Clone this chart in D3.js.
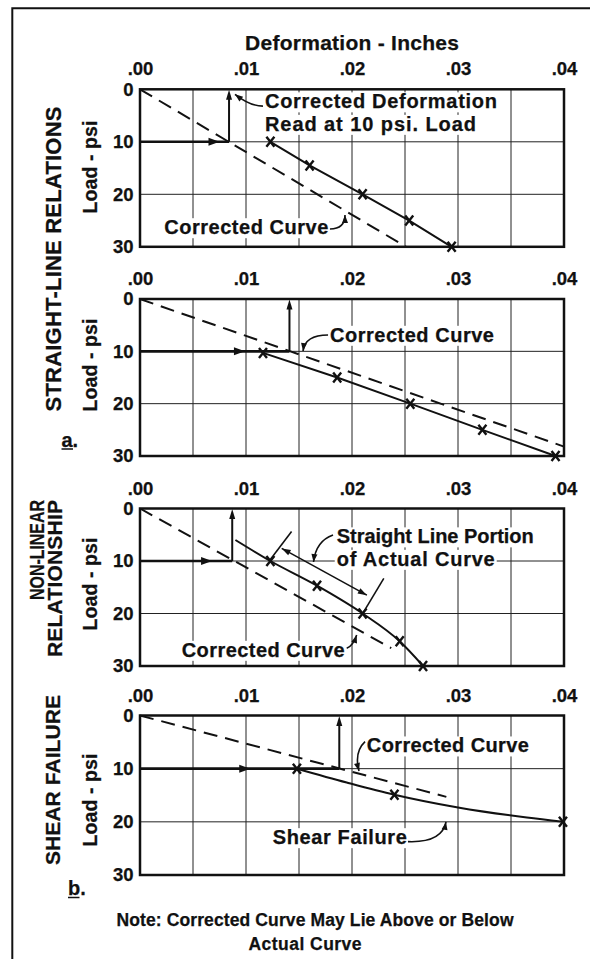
<!DOCTYPE html>
<html><head><meta charset="utf-8">
<script src="https://cdn.jsdelivr.net/npm/d3@7"></script>
<style>
html,body{margin:0;padding:0;background:#fff;}
svg{display:block;}
text{font-family:"Liberation Sans",Arial,Helvetica,sans-serif;font-weight:bold;fill:#111;stroke:#111;stroke-width:0.25px;}
</style></head><body>
<svg id="chart" width="590" height="959"></svg>
<script>
// ---------------- DATA ----------------
const xTickValues = [0, 0.01, 0.02, 0.03, 0.04];
const xTickLabels = [".00", ".01", ".02", ".03", ".04"];
const yTickValues = [0, 10, 20, 30];
const yTickLabels = ["0", "10", "20", "30"];
const xGridValues = [0.005, 0.01, 0.015, 0.02, 0.025, 0.03, 0.035];
const yGridValues = [10, 20];
const xAxisTitle = "Deformation - Inches";
const yAxisTitle = "Load - psi";

// Panel 1 (straight-line, a / upper)
const p1Actual = [[0.0123,10],[0.0160,14.5],[0.0210,20],[0.0254,25],[0.0294,30]];
const p1Marks = [[0.0123,10],[0.0160,14.5],[0.0210,20],[0.0254,25],[0.0294,30]];
const p1Corrected = [[0,0],[0.0251,30]];
const p1Read = [0.0084,10];
const p1ArrowTip = 0.0075;

// Panel 2 (straight-line, a / lower)
const p2Actual = [[0.0116,10.3],[0.0186,15],[0.0255,20],[0.0323,25],[0.0392,30]];
const p2Marks = [[0.0116,10.3],[0.0186,15],[0.0255,20],[0.0323,25],[0.0392,30]];
const p2Corrected = [[0,0],[0.04,28.2]];
const p2Read = [0.0141,10];
const p2ArrowTip = 0.0099;

// Panel 3 (non-linear)
const p3Actual = [[0.0090,6.0],[0.0123,10],[0.0167,14.7],[0.0210,20],[0.0245,25.3],[0.0267,30]];
const p3Marks = [[0.0123,10],[0.0167,14.7],[0.0210,20],[0.0245,25.3],[0.0267,30]];
const p3Corrected = [[0,0],[0.0237,26.6]];
const p3Read = [0.0087,10];
const p3ArrowTip = 0.0068;
const p3StraightPortion = [[0.01337,7.6],[0.0214,16.5]];
const p3ExtensionA = [[0.0143,4.4],[0.01226,9.8]];
const p3ExtensionB = [[0.0230,13.3],[0.0211,19.7]];

// Panel 4 (shear failure)
const p4Actual = [[0.0148,10],[0.0195,12.6],[0.0240,14.9],[0.0300,17.3],[0.0365,19.2],[0.0399,20]];
const p4Marks = [[0.0148,10],[0.0240,14.9],[0.0399,20]];
const p4Corrected = [[0,0],[0.0289,15.3]];
const p4Read = [0.0188,10];
const p4ArrowTip = 0.0104;

// Annotations (anchors in data units: [inches, psi])
const p1Labels = [
  {lines:["Corrected Deformation","Read at 10 psi. Load"], at:[0.01179,3.63], lens:[232,211]},
  {lines:["Corrected Curve"], at:[0.00229,27.6], lens:[164]}
];
const p1Leaders = [
  [[0.0116,3.2],[0.0104,3.2],[0.00896,0.95]],
  [[0.01792,26.6],[0.01934,26.6],[0.01934,23.95]]
];
const p2Labels = [{lines:["Corrected Curve"], at:[0.01792,8.18], lens:[164]}];
const p2Leaders = [[[0.01774,6.88],[0.01557,6.88],[0.01538,9.94]]];
const p3Labels = [
  {lines:["Straight Line Portion","of Actual Curve"], at:[0.01856,6.64], lens:[197,158]},
  {lines:["Corrected Curve"], at:[0.00393,28.25], lens:[163]}
];
const p3Leaders = [
  [[0.01821,5.05],[0.0166,6.19],[0.01637,10.19]],
  [[0.0195,26.63],[0.0201,26.19],[0.02044,24.1]]
];
const p4Labels = [
  {lines:["Corrected Curve"], at:[0.0214,6.95], lens:[162]},
  {lines:["Shear Failure"], at:[0.01253,24.2], lens:[134]}
];
const p4Leaders = [
  [[0.02123,4.92],[0.02019,6.86],[0.02066,10.43]],
  [[0.02528,23.72],[0.02849,23.97],[0.02887,20.02]]
];

// ---------------- LAYOUT ----------------
const svg = d3.select("#chart");
const plotLeft = 140, plotRight = 564;
const panelTops = [89.3, 299, 508.5, 715.5];
const panelBottoms = [246.8, 456, 666, 875];
const yTitleCenters = [167, 365, 584, 800];
const labelSize = 20;
const lineGap = 22.5;

const panels = [
  {actual:p1Actual, marks:p1Marks, corrected:p1Corrected, read:p1Read, tip:p1ArrowTip, curve:d3.curveLinear, labels:p1Labels, leaders:p1Leaders},
  {actual:p2Actual, marks:p2Marks, corrected:p2Corrected, read:p2Read, tip:p2ArrowTip, curve:d3.curveLinear, labels:p2Labels, leaders:p2Leaders},
  {actual:p3Actual, marks:p3Marks, corrected:p3Corrected, read:p3Read, tip:p3ArrowTip, curve:d3.curveMonotoneX, labels:p3Labels, leaders:p3Leaders},
  {actual:p4Actual, marks:p4Marks, corrected:p4Corrected, read:p4Read, tip:p4ArrowTip, curve:d3.curveMonotoneX, labels:p4Labels, leaders:p4Leaders}
];

const ink = "#111";

// outer frame (left and top edges visible)
svg.append("path").attr("d","M12.3,959L12.3,8.3L590,8.3")
  .attr("fill","none").attr("stroke",ink).attr("stroke-width",2);

// x-axis title
svg.append("text").attr("x",(plotLeft+plotRight)/2).attr("y",50)
  .attr("text-anchor","middle").style("font-size","21px")
  .attr("textLength",214).attr("lengthAdjust","spacing")
  .text(xAxisTitle);

function arrowHead(g, tip, from, len, wid){
  const a = Math.atan2(tip[1]-from[1], tip[0]-from[0]) * 180/Math.PI;
  g.append("path").attr("d",`M0,0L${-len},${-wid/2}L${-len},${wid/2}Z`)
    .attr("transform",`translate(${tip[0]},${tip[1]}) rotate(${a})`)
    .attr("fill",ink);
}

panels.forEach((p,i)=>{
  const top = panelTops[i], bottom = panelBottoms[i];
  const x = d3.scaleLinear().domain([0,0.04]).range([plotLeft,plotRight]);
  const y = d3.scaleLinear().domain([0,30]).range([top,bottom]);
  const g = svg.append("g");
  const gGrid = g.append("g"), gKnock = g.append("g"), gData = g.append("g"), gText = g.append("g");

  // grid
  gGrid.selectAll(".vg").data(xGridValues).join("line")
    .attr("x1",d=>x(d)).attr("x2",d=>x(d)).attr("y1",top).attr("y2",bottom)
    .attr("stroke","#222").attr("stroke-width",1);
  gGrid.selectAll(".hg").data(yGridValues).join("line")
    .attr("x1",plotLeft).attr("x2",plotRight).attr("y1",d=>y(d)).attr("y2",d=>y(d))
    .attr("stroke","#222").attr("stroke-width",1);

  // axes
  const ax = g.append("g").attr("transform",`translate(0,${top})`)
    .call(d3.axisTop(x).tickValues(xTickValues).tickFormat((d,k)=>xTickLabels[k]).tickSize(0).tickPadding(14));
  ax.select(".domain").remove();
  ax.attr("font-family",null).attr("font-size",null);
  ax.selectAll("text").style("font-size","18.5px").attr("fill",ink);

  const ay = g.append("g").attr("transform",`translate(${plotLeft},0)`)
    .call(d3.axisLeft(y).tickValues(yTickValues).tickFormat((d,k)=>yTickLabels[k]).tickSize(0).tickPadding(6.5));
  ay.select(".domain").remove();
  ay.attr("font-family",null).attr("font-size",null);
  ay.selectAll("text").style("font-size","18.5px").attr("fill",ink);

  // y title
  g.append("text").attr("transform",`translate(97,${yTitleCenters[i]}) rotate(-90)`)
    .attr("text-anchor","middle").style("font-size","19.5px")
    .attr("textLength",93).attr("lengthAdjust","spacing").text(yAxisTitle);

  // labels (one text element per label, lines as tspans) with white knockout per line
  p.labels.forEach(l=>{
    const x0 = x(l.at[0]), y0 = y(l.at[1]);
    const t = gText.append("text").attr("x",x0).attr("y",y0).style("font-size",labelSize+"px");
    l.lines.forEach((s,k)=>{
      t.append("tspan").attr("x",x0).attr("y",y0+k*lineGap)
        .attr("textLength",l.lens[k]).attr("lengthAdjust","spacing").text(s);
      gKnock.append("rect").attr("x",x0-2).attr("y",y0+k*lineGap-16).attr("width",l.lens[k]+4).attr("height",20)
        .attr("fill","#fff");
    });
  });

  // corrected (dashed) line
  gData.append("path").datum(p.corrected)
    .attr("d",d3.line().x(d=>x(d[0])).y(d=>y(d[1])))
    .attr("fill","none").attr("stroke",ink).attr("stroke-width",2).attr("stroke-dasharray","14,8");

  // actual curve
  gData.append("path").datum(p.actual)
    .attr("d",d3.line().x(d=>x(d[0])).y(d=>y(d[1])).curve(p.curve))
    .attr("fill","none").attr("stroke",ink).attr("stroke-width",2);

  // horizontal arrow at 10 psi
  gData.append("line").attr("x1",x(0)).attr("x2",x(p.read[0])).attr("y1",y(p.read[1])).attr("y2",y(p.read[1]))
    .attr("stroke",ink).attr("stroke-width",2.6);
  arrowHead(gData,[x(p.tip),y(p.read[1])],[x(0),y(p.read[1])],11,8);

  // vertical arrow up to 0
  gData.append("line").attr("x1",x(p.read[0])).attr("x2",x(p.read[0])).attr("y1",y(p.read[1])).attr("y2",y(0)+6)
    .attr("stroke",ink).attr("stroke-width",2);
  arrowHead(gData,[x(p.read[0]),y(0)+0.5],[x(p.read[0]),y(p.read[1])],10,6);

  // marks
  gData.selectAll(".mk").data(p.marks).join("path")
    .attr("d","M-4,-5L4,5M-4,5L4,-5")
    .attr("transform",d=>`translate(${x(d[0])},${y(d[1])})`)
    .attr("stroke",ink).attr("stroke-width",2.4).attr("fill","none");

  // leaders
  p.leaders.forEach(L=>{
    const s=[x(L[0][0]),y(L[0][1])], c=[x(L[1][0]),y(L[1][1])], e=[x(L[2][0]),y(L[2][1])];
    const path = d3.path(); path.moveTo(s[0],s[1]); path.quadraticCurveTo(c[0],c[1],e[0],e[1]);
    gData.append("path").attr("d",path.toString()).attr("fill","none").attr("stroke",ink).attr("stroke-width",1.6);
    arrowHead(gData,e,c,8,6);
  });

  // panel 3 dimension annotation
  if(i===2){
    const a=[x(p3StraightPortion[0][0]),y(p3StraightPortion[0][1])];
    const b=[x(p3StraightPortion[1][0]),y(p3StraightPortion[1][1])];
    gData.append("line").attr("x1",a[0]).attr("y1",a[1]).attr("x2",b[0]).attr("y2",b[1])
      .attr("stroke",ink).attr("stroke-width",1.6);
    arrowHead(gData,a,b,9,6);
    arrowHead(gData,b,a,9,6);
    [p3ExtensionA,p3ExtensionB].forEach(E=>{
      gData.append("line").attr("x1",x(E[0][0])).attr("y1",y(E[0][1])).attr("x2",x(E[1][0])).attr("y2",y(E[1][1]))
        .attr("stroke",ink).attr("stroke-width",1.6);
    });
  }

  // plot frame
  g.append("rect").attr("x",plotLeft).attr("y",top).attr("width",plotRight-plotLeft).attr("height",bottom-top)
    .attr("fill","none").attr("stroke",ink).attr("stroke-width",2.5);
});

// side category labels
svg.append("text").attr("transform","translate(61,259) rotate(-90)").attr("text-anchor","middle")
  .style("font-size","22px").attr("textLength",305).attr("lengthAdjust","spacing").text("STRAIGHT-LINE RELATIONS");
svg.append("text").attr("transform","translate(44,500) rotate(-90)").attr("text-anchor","end")
  .style("font-size","21px").attr("textLength",100).attr("lengthAdjust","spacingAndGlyphs").text("NON-LINEAR");
svg.append("text").attr("transform","translate(62,500) rotate(-90)").attr("text-anchor","end")
  .style("font-size","21px").attr("textLength",157).attr("lengthAdjust","spacing").text("RELATIONSHIP");
svg.append("text").attr("transform","translate(60,780) rotate(-90)").attr("text-anchor","middle")
  .style("font-size","21px").attr("textLength",170).attr("lengthAdjust","spacing").text("SHEAR FAILURE");

// a. / b. markers
function partLabel(letter, x0, base){
  svg.append("text").attr("x",x0).attr("y",base).style("font-size","20px").text(letter+".");
  svg.append("line").attr("x1",x0).attr("x2",x0+11.5).attr("y1",base+2.5).attr("y2",base+2.5)
    .attr("stroke",ink).attr("stroke-width",1.5);
}
partLabel("a",61.5,446.5);
partLabel("b",68,895);

// note
svg.append("text").attr("x",315).attr("y",925.5).attr("text-anchor","middle").style("font-size","17.5px")
  .attr("textLength",397).attr("lengthAdjust","spacing").text("Note: Corrected Curve May Lie Above or Below");
svg.append("text").attr("x",305).attr("y",949.5).attr("text-anchor","middle").style("font-size","17.5px")
  .attr("textLength",113).attr("lengthAdjust","spacing").text("Actual Curve");
</script>
</body></html>
